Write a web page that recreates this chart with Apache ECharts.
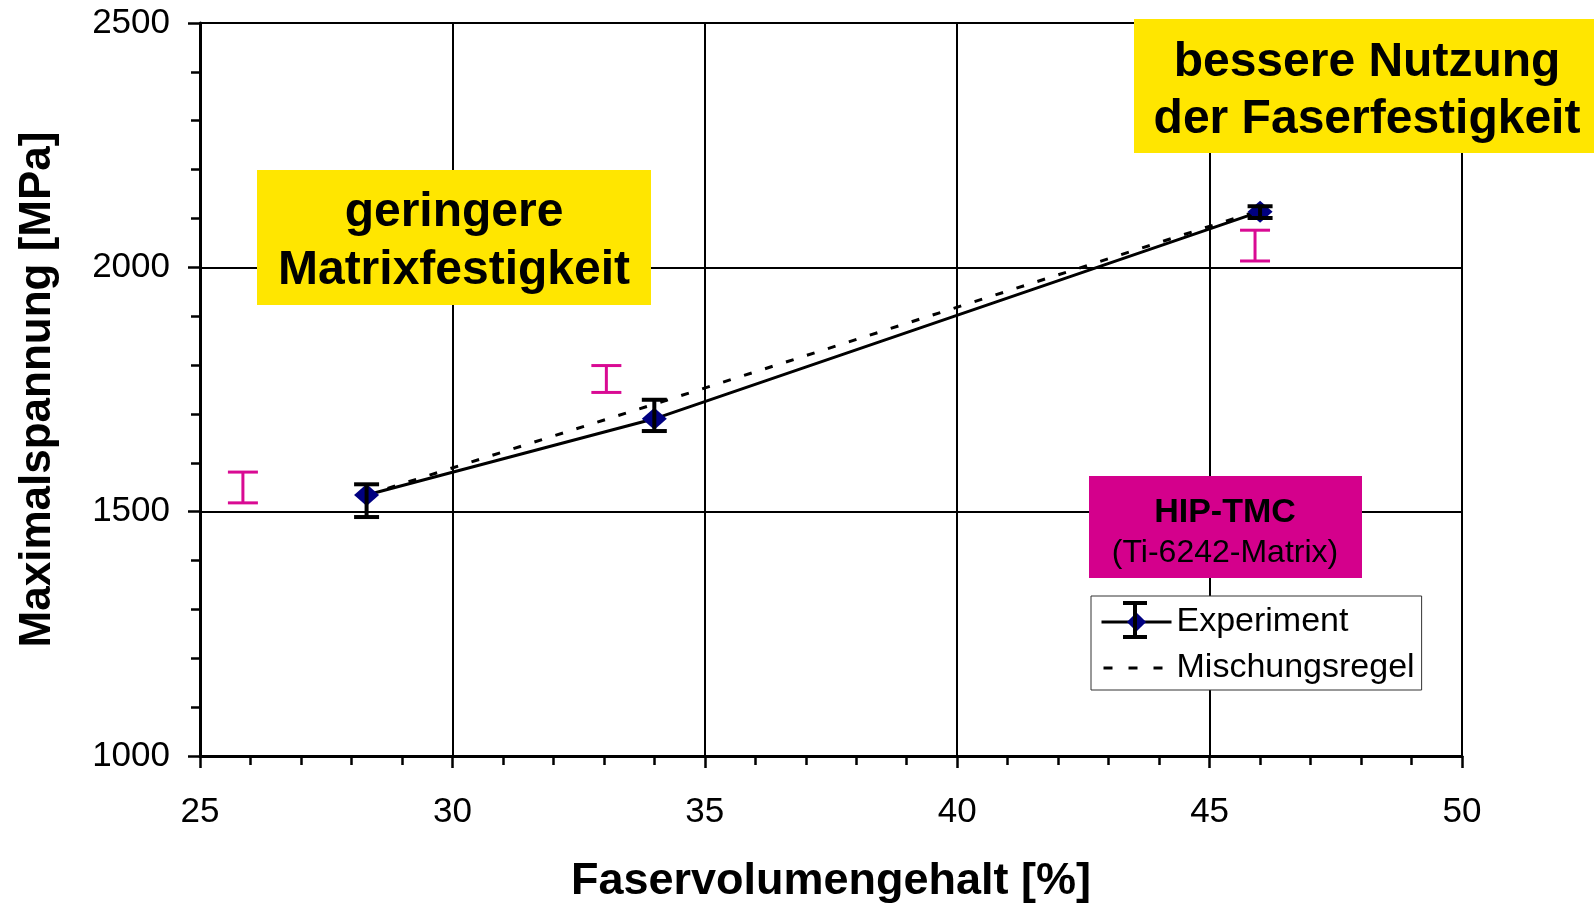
<!DOCTYPE html>
<html>
<head>
<meta charset="utf-8">
<script src="https://cdn.jsdelivr.net/npm/echarts@6/dist/echarts.min.js"></script>
<style>
  html, body { margin: 0; padding: 0; background: #fff; }
  #chart { width: 1594px; height: 905px; }
</style>
</head>
<body>
<div id="chart"></div>
<script>
// Measured tensile strength of HIP-TMC (Ti-6242 matrix) vs. fibre volume fraction
const fiberContent   = [28.3, 34.0, 46.0];
const strengthMean   = [1534, 1690, 2114];
const strengthLow    = [1489, 1665, 2101];
const strengthHigh   = [1556, 1729, 2125];
// Rule-of-mixtures prediction at the same fibre contents
const ruleOfMixtures = [1534, 1720, 2117];
// Comparison ranges (magenta bars)
const refContent = [25.85, 33.05, 45.9];
const refLow     = [1518, 1744, 2013];
const refHigh    = [1581, 1799, 2076];

const xTicks = { min: 25, max: 50, interval: 5 };
const yTicks = { min: 1000, max: 2500, interval: 500 };

const FONT = '"Liberation Sans", Arial, sans-serif';

const expPoints = fiberContent.map((x, i) => [x, strengthMean[i]]);
const romPoints = fiberContent.map((x, i) => [x, ruleOfMixtures[i]]);
const expErr = fiberContent.map((x, i) => [x, strengthLow[i], strengthHigh[i]]);
const refErr = refContent.map((x, i) => [x, refLow[i], refHigh[i]]);

function errorBar(capHalf, color, width) {
  return function (params, api) {
    const x = api.value(0);
    const lo = api.coord([x, api.value(1)]);
    const hi = api.coord([x, api.value(2)]);
    const st = { stroke: color, lineWidth: width };
    return {
      type: 'group',
      children: [
        { type: 'line', shape: { x1: lo[0], y1: lo[1], x2: hi[0], y2: hi[1] }, style: st },
        { type: 'line', shape: { x1: lo[0] - capHalf, y1: lo[1], x2: lo[0] + capHalf, y2: lo[1] }, style: st },
        { type: 'line', shape: { x1: hi[0] - capHalf, y1: hi[1], x2: hi[0] + capHalf, y2: hi[1] }, style: st }
      ]
    };
  };
}

const chart = echarts.init(document.getElementById('chart'), null, { renderer: 'canvas' });

const axisCommon = {
  type: 'value',
  axisLine: { show: true, onZero: false, lineStyle: { color: '#000', width: 3 } },
  axisTick: { show: true, length: 12, lineStyle: { color: '#000', width: 2.5 } },
  minorTick: { show: true, splitNumber: 5, length: 9, lineStyle: { color: '#000', width: 2.5 } },
  splitLine: { show: true, lineStyle: { color: '#000', width: 2 } },
  minorSplitLine: { show: false },
  axisLabel: { color: '#000', fontFamily: FONT, fontSize: 35, formatter: v => String(v) },
  nameTextStyle: { color: '#000', fontFamily: FONT, fontSize: 44, fontWeight: 'bold' }
};

chart.setOption({
  backgroundColor: '#fff',
  animation: false,
  grid: { left: 200, right: 132, top: 23, bottom: 149, containLabel: false, outerBoundsMode: 'none' },
  xAxis: Object.assign({}, axisCommon, {
    min: xTicks.min, max: xTicks.max, interval: xTicks.interval,
    name: 'Faservolumengehalt [%]',
    nameLocation: 'middle',
    nameGap: 103,
    nameTextStyle: Object.assign({}, axisCommon.nameTextStyle, { fontSize: 45 }),
    axisLabel: Object.assign({}, axisCommon.axisLabel, { margin: 39 })
  }),
  yAxis: Object.assign({}, axisCommon, {
    min: yTicks.min, max: yTicks.max, interval: yTicks.interval,
    name: 'Maximalspannung [MPa]',
    nameLocation: 'middle',
    nameGap: 140,
    axisLabel: Object.assign({}, axisCommon.axisLabel, { margin: 30 })
  }),
  legend: {
    data: [
      { name: 'Experiment', lineStyle: { width: 3 } },
      { name: 'Mischungsregel', itemStyle: { opacity: 0 }, lineStyle: { width: 3, type: [9, 16], dashOffset: -2 } }
    ],
    orient: 'vertical',
    left: 1091,
    top: 596,
    padding: [8, 7, 4, 9],
    itemGap: 10,
    itemWidth: 70,
    itemHeight: 24,
    backgroundColor: '#fff',
    borderColor: '#333',
    borderWidth: 1,
    borderRadius: 0,
    selectedMode: false,
    textStyle: { color: '#000', fontFamily: FONT, fontSize: 34, lineHeight: 36 }
  },
  series: [
    {
      name: 'Mischungsregel',
      type: 'line',
      data: romPoints,
      symbol: 'none',
      lineStyle: { color: '#000', width: 3, type: [8, 14] },
      itemStyle: { color: '#000' },
      z: 2
    },
    {
      name: 'Experiment',
      type: 'line',
      data: expPoints,
      symbol: 'diamond',
      symbolSize: [25, 22],
      lineStyle: { color: '#000', width: 3 },
      itemStyle: { color: '#000080' },
      z: 3
    },
    {
      name: 'Fehler Experiment',
      type: 'custom',
      data: expErr,
      renderItem: errorBar(12.5, '#000', 4),
      z: 4,
      silent: true
    },
    {
      name: 'Vergleich',
      type: 'custom',
      data: refErr,
      renderItem: errorBar(15, '#d90a93', 3),
      z: 4,
      silent: true
    }
  ],
  graphic: [
    // error bar glyph on the Experiment legend entry
    { type: 'line', z: 200, shape: { x1: 1135, y1: 603, x2: 1135, y2: 637 }, style: { stroke: '#000', lineWidth: 4 } },
    { type: 'line', z: 200, shape: { x1: 1123, y1: 603, x2: 1147, y2: 603 }, style: { stroke: '#000', lineWidth: 4 } },
    { type: 'line', z: 200, shape: { x1: 1123, y1: 637, x2: 1147, y2: 637 }, style: { stroke: '#000', lineWidth: 4 } },
    // annotation: lower matrix strength
    { type: 'rect', z: 100, shape: { x: 257, y: 170, width: 394, height: 135 }, style: { fill: '#ffe600' } },
    { type: 'text', z: 101, x: 454, y: 242,
      style: { text: 'geringere\nMatrixfestigkeit', fill: '#000', font: 'bold 48px ' + FONT,
               align: 'center', verticalAlign: 'middle', lineHeight: 58 } },
    // annotation: better use of fibre strength
    { type: 'rect', z: 100, shape: { x: 1134, y: 19, width: 460, height: 134 }, style: { fill: '#ffe600' } },
    { type: 'text', z: 101, x: 1367, y: 91,
      style: { text: 'bessere Nutzung\nder Faserfestigkeit', fill: '#000', font: 'bold 48px ' + FONT,
               align: 'center', verticalAlign: 'middle', lineHeight: 57 } },
    // material label
    { type: 'rect', z: 100, shape: { x: 1089, y: 476, width: 273, height: 102 }, style: { fill: '#d4008c' } },
    { type: 'text', z: 101, x: 1225, y: 513,
      style: { text: 'HIP-TMC', fill: '#000', font: 'bold 34px ' + FONT, align: 'center', verticalAlign: 'middle' } },
    { type: 'text', z: 101, x: 1225, y: 553,
      style: { text: '(Ti-6242-Matrix)', fill: '#000', font: '32px ' + FONT, align: 'center', verticalAlign: 'middle' } }
  ]
});
</script>
</body>
</html>
